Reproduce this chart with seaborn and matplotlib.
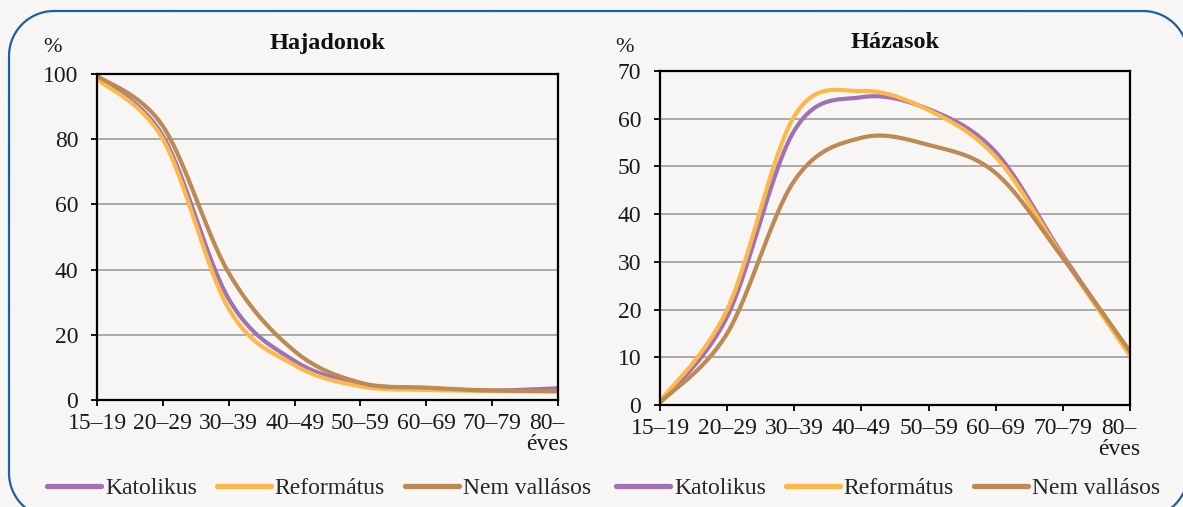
import numpy as np
import pandas as pd
import matplotlib
matplotlib.use('Agg')
import matplotlib.pyplot as plt
from matplotlib.lines import Line2D
from matplotlib.transforms import ScaledTranslation
import seaborn as sns

# data (%)
age_groups = ['15–19', '20–29', '30–39', '40–49', '50–59', '60–69', '70–79', '80–\néves']
series_names = ['Katolikus', 'Református', 'Nem vallásos']

hajadon_katolikus = [99, 81, 31, 12, 5.0, 3.6, 2.9, 3.6]
hajadon_reformatus = [98.5, 80, 28, 10.7, 4.2, 3.1, 2.8, 2.5]
hajadon_nem_vallasos = [99.5, 84, 39, 15, 5.3, 3.8, 2.9, 2.8]

hazas_katolikus = [0.5, 18.5, 57.5, 64.5, 62.0, 53.0, 31.4, 10.8]
hazas_reformatus = [0.8, 20, 60.5, 65.8, 61.8, 52.0, 31.0, 10.3]
hazas_nem_vallasos = [0.5, 15, 47, 56, 54.5, 48.6, 30.8, 11.2]

colors = ['#9E72B4', '#FDB84A', '#BC8A52']
bg = '#F7F6F4'

sns.set_style('white')
plt.rcParams['font.family'] = ['Liberation Serif', 'DejaVu Serif']


def smooth_curve(vals, n=30):
    # Catmull-Rom style smoothing, like a "smoothed line" in a spreadsheet chart
    y = np.asarray(vals, dtype=float)
    x = np.arange(len(y), dtype=float)
    xp = np.r_[x[0], x, x[-1]]
    yp = np.r_[y[0], y, y[-1]]
    xs, ys = [], []
    t = np.linspace(0, 1, n, endpoint=False)
    for i in range(1, len(xp) - 2):
        for arr, out in ((xp, xs), (yp, ys)):
            p0, p1, p2, p3 = arr[i - 1], arr[i], arr[i + 1], arr[i + 2]
            out.extend(0.5 * (2 * p1 + (-p0 + p2) * t
                              + (2 * p0 - 5 * p1 + 4 * p2 - p3) * t ** 2
                              + (-p0 + 3 * p1 - 3 * p2 + p3) * t ** 3))
    xs.append(x[-1])
    ys.append(y[-1])
    return np.array(xs), np.array(ys)


def make_frame(series):
    rows = []
    for name, vals in zip(series_names, series):
        xs, ys = smooth_curve(vals)
        rows.append(pd.DataFrame({'x': xs, 'y': ys, 'vallas': name}))
    return pd.concat(rows, ignore_index=True)


W, H = 1183, 507
fig = plt.figure(figsize=(W / 100, H / 100), dpi=100, facecolor=bg)

# rounded blue frame, pixel coords (y down) -> figure fraction
left, right, top, bottom, r = 9, 1188, 11, 518, 45
a = np.linspace(0, np.pi / 2, 40)
bl = np.c_[left + r - r * np.sin(a), bottom - r + r * np.cos(a)]
tl = np.c_[left + r - r * np.cos(a), top + r - r * np.sin(a)]
tr = np.c_[right - r + r * np.sin(a), top + r - r * np.cos(a)]
br = np.c_[right - r + r * np.cos(a), bottom - r + r * np.sin(a)]
pts = np.vstack([bl, tl, tr, br])
fig.add_artist(Line2D(pts[:, 0] / W, 1 - pts[:, 1] / H, transform=fig.transFigure,
                      color='#1F5F9E', lw=1.6))

panels = [
    dict(rect=[0.0820, 0.2110, 0.3897, 0.6430], title='Hajadonok', ymax=100, step=20,
         data=[hajadon_katolikus, hajadon_reformatus, hajadon_nem_vallasos],
         pct=(52, 47), leg_x=319),
    dict(rect=[0.5579, 0.2012, 0.3973, 0.6588], title='Házasok', ymax=70, step=10,
         data=[hazas_katolikus, hazas_reformatus, hazas_nem_vallasos],
         pct=(624, 48), leg_x=888),
]

for p in panels:
    ax = fig.add_axes(p['rect'])
    ax.set_facecolor(bg)
    df = make_frame(p['data'])
    sns.lineplot(data=df, x='x', y='y', hue='vallas', palette=colors, sort=False,
                 estimator=None, lw=3.0, ax=ax, legend=False)
    ax.set_xlim(0, len(age_groups) - 1)
    ax.set_ylim(0, p['ymax'])
    ax.set_yticks(np.arange(0, p['ymax'] + 1, p['step']))
    ax.set_xticks(range(len(age_groups)))
    ax.set_xticklabels(age_groups, linespacing=1.0)
    ax.set_xlabel('')
    ax.set_ylabel('')
    ax.yaxis.grid(True, color='#A3A3A3', lw=1.3)
    ax.xaxis.grid(False)
    ax.set_axisbelow(True)
    for s in ax.spines.values():
        s.set_visible(True)
        s.set_color('black')
        s.set_linewidth(1.6)
    ax.tick_params(axis='both', direction='out', length=4.5, width=1.3, color='black',
                   labelsize=17, labelcolor='#1A1A1A', left=True, bottom=True)
    ax.tick_params(axis='y', pad=9)
    ax.tick_params(axis='x', pad=5)
    last = ax.get_xticklabels()[-1]
    last.set_transform(last.get_transform() + ScaledTranslation(-0.11, 0, fig.dpi_scale_trans))

    cx = (p['rect'][0] + p['rect'][2] / 2)
    fig.text(cx, 1 - 43 / H, p['title'], ha='center', va='center', fontsize=17.5,
             fontweight='bold', color='#111111')
    fig.text(p['pct'][0] / W, 1 - p['pct'][1] / H, '%', ha='center', va='center',
             fontsize=16, color='#1A1A1A')

    handles = [Line2D([], [], color=c, lw=3.8, solid_capstyle='round') for c in colors]
    ax.legend(handles, series_names, loc='center', ncol=3, frameon=False,
              bbox_to_anchor=(p['leg_x'] / W, 1 - 488 / H), bbox_transform=fig.transFigure,
              fontsize=17, handlelength=2.3, handletextpad=0.15, columnspacing=0.85,
              borderpad=0, borderaxespad=0)

fig.savefig('out.png', dpi=100, facecolor=bg)
